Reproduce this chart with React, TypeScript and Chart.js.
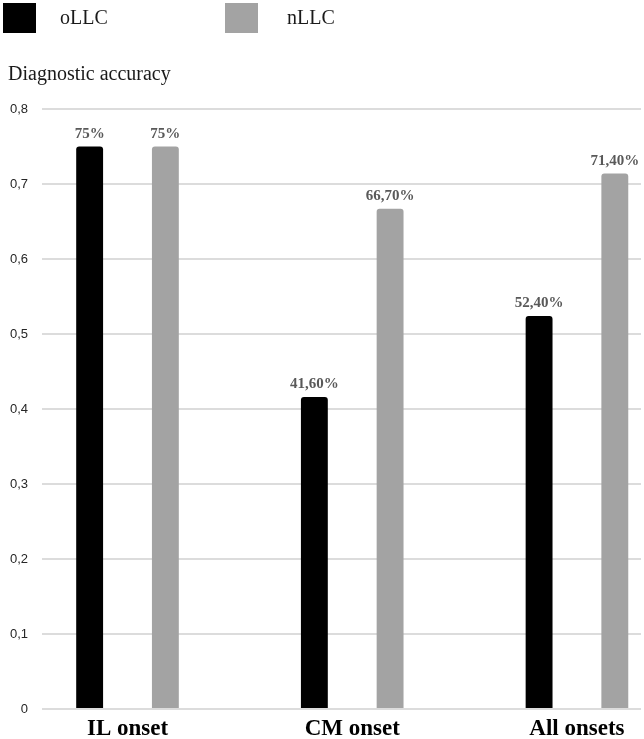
import React, { useEffect, useRef } from "react";
import { Chart, registerables } from "chart.js";

Chart.register(...registerables);

const categories = ["IL onset", "CM onset", "All onsets"];
const seriesNames = ["oLLC", "nLLC"];
const oLLC = [0.75, 0.416, 0.524];
const nLLC = [0.75, 0.667, 0.714];
const oLLCLabels = ["75%", "41,60%", "52,40%"];
const nLLCLabels = ["75%", "66,70%", "71,40%"];
const yTickLabels = ["0", "0,1", "0,2", "0,3", "0,4", "0,5", "0,6", "0,7", "0,8"];
const yTitle = "Diagnostic accuracy";

const colors = ["#000000", "#a3a3a3"];
const SERIF = "'Liberation Serif', 'Times New Roman', serif";
const SANS = "'Liberation Sans', Arial, sans-serif";
const X_MIN = -0.3805;
const X_MAX = 2.285;

const overlayPlugin = {
  id: "overlay",
  afterDatasetsDraw(chart: any) {
    const ctx = chart.ctx;
    const labelSets = [oLLCLabels, nLLCLabels];
    ctx.save();
    ctx.fillStyle = "#595959";
    ctx.font = `bold 15px ${SERIF}`;
    ctx.textAlign = "center";
    ctx.textBaseline = "bottom";
    chart.data.datasets.forEach((_ds: any, di: number) => {
      const meta = chart.getDatasetMeta(di);
      meta.data.forEach((el: any, i: number) => {
        ctx.fillText(labelSets[di][i], el.x, el.y - 5);
      });
    });
    ctx.restore();
  },
  afterDraw(chart: any) {
    const ctx = chart.ctx;
    ctx.save();
    const boxes = [
      { x: 3, text: seriesNames[0], tx: 60 },
      { x: 225, text: seriesNames[1], tx: 287 },
    ];
    boxes.forEach((b, i) => {
      ctx.fillStyle = colors[i];
      ctx.fillRect(b.x, 3, 33, 30);
      ctx.fillStyle = "#1a1a1a";
      ctx.font = `20px ${SERIF}`;
      ctx.textAlign = "left";
      ctx.textBaseline = "middle";
      ctx.fillText(b.text, b.tx, 19);
    });
    ctx.fillStyle = "#1a1a1a";
    ctx.font = `20px ${SERIF}`;
    ctx.textAlign = "left";
    ctx.textBaseline = "middle";
    ctx.fillText(yTitle, 8, 75);
    ctx.restore();
  },
};

export default function App() {
  const ref = useRef<HTMLCanvasElement | null>(null);

  useEffect(() => {
    if (!ref.current) return;
    const chart = new Chart(ref.current, {
      type: "bar",
      data: {
        datasets: [
          {
            label: seriesNames[0],
            data: oLLC.map((v, i) => ({ x: i, y: v })),
            backgroundColor: colors[0],
            borderRadius: 3,
            borderSkipped: "start",
            barPercentage: 0.355,
            categoryPercentage: 0.674,
          },
          {
            label: seriesNames[1],
            data: nLLC.map((v, i) => ({ x: i, y: v })),
            backgroundColor: colors[1],
            borderRadius: 3,
            borderSkipped: "start",
            barPercentage: 0.355,
            categoryPercentage: 0.674,
          },
        ],
      },
      options: {
        animation: false,
        responsive: false,
        maintainAspectRatio: false,
        layout: { padding: { top: 109, right: 3, left: 0, bottom: 0 } },
        plugins: {
          legend: { display: false },
          title: { display: false },
          tooltip: { enabled: false },
        },
        scales: {
          x: {
            type: "linear",
            offset: false,
            min: X_MIN,
            max: X_MAX,
            afterDataLimits(scale: any) {
              scale.min = X_MIN;
              scale.max = X_MAX;
            },
            afterBuildTicks(scale: any) {
              scale.ticks = categories.map((_c, i) => ({ value: i }));
            },
            afterFit(scale: any) {
              scale.height = 30;
              scale.paddingLeft = 0;
              scale.paddingRight = 0;
            },
            grid: { display: false, drawTicks: false, offset: false },
            border: { display: false },
            ticks: {
              padding: 6,
              maxRotation: 0,
              autoSkip: false,
              color: "#000000",
              font: { family: SERIF, size: 23, weight: "bold" },
              callback: (v: any) => categories[Math.round(Number(v))] ?? "",
            },
          },
          y: {
            min: 0,
            max: 0.8,
            afterBuildTicks(scale: any) {
              scale.ticks = yTickLabels.map((_t, i) => ({ value: i / 10 }));
            },
            afterFit(scale: any) {
              scale.width = 42;
            },
            grid: { color: "#dcdcdc", lineWidth: 2, drawTicks: false },
            border: { display: false },
            ticks: {
              padding: 14,
              color: "#262626",
              font: { family: SANS, size: 13 },
              callback: (_v: any, i: number) => yTickLabels[i],
            },
          },
        },
      },
      plugins: [overlayPlugin],
    });
    return () => chart.destroy();
  }, []);

  return (
    <div style={{ position: "fixed", left: 0, top: 0, width: 644, height: 739, background: "#ffffff" }}>
      <canvas ref={ref} width={644} height={739} style={{ width: 644, height: 739 }} />
    </div>
  );
}
